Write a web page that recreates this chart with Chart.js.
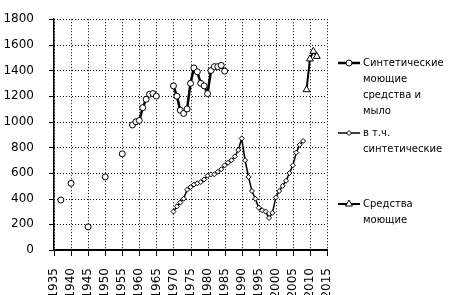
<!DOCTYPE html>
<html lang="ru">
<head>
<meta charset="UTF-8">
<title>Производство моющих средств</title>
<script src="https://cdn.jsdelivr.net/npm/chart.js"></script>
<style>
  * { margin: 0; padding: 0; }
  body { background: #fff; width: 453px; height: 295px; overflow: hidden; }
  .wrap { position: relative; width: 453px; height: 295px; }
</style>
</head>
<body>
<div class="wrap"><canvas id="chart"></canvas></div>
<script>
// Синтетические моющие средства и мыло (null = разрыв линии)
const soapYears = [1937, 1938, 1940, 1941, 1945, 1946, 1950, 1951, 1955, 1956,
  1958, 1959, 1960, 1961, 1962, 1963, 1964, 1965, 1966,
  1970, 1971, 1972, 1973, 1974, 1975, 1976, 1977, 1978, 1979, 1980, 1981, 1982, 1983, 1984, 1985];
const soapValues = [390, null, 520, null, 180, null, 570, null, 750, null,
  975, 1000, 1010, 1110, 1175, 1215, 1220, 1200, null,
  1280, 1200, 1090, 1065, 1100, 1300, 1420, 1390, 1300, 1280, 1220, 1400, 1430, 1430, 1440, 1395];

// в т.ч. синтетические
const synthYears = [1970, 1971, 1972, 1973, 1974, 1975, 1976, 1977, 1978, 1979,
  1980, 1981, 1982, 1983, 1984, 1985, 1986, 1987, 1988, 1989,
  1990, 1991, 1992, 1993, 1994, 1995, 1996, 1997, 1998, 1999,
  2000, 2001, 2002, 2003, 2004, 2005, 2006, 2007, 2008];
const synthValues = [300, 340, 370, 400, 470, 490, 510, 520, 530, 550,
  580, 590, 590, 610, 630, 660, 680, 700, 730, 780,
  870, 700, 570, 460, 400, 330, 310, 300, 250, 290,
  410, 460, 500, 540, 600, 660, 760, 820, 850];

// Средства моющие
const detYears = [2009, 2010, 2011, 2012];
const detValues = [1250, 1490, 1550, 1510];

const legendLines = [
  ['Синтетические', 'моющие', 'средства и', 'мыло'],
  ['в т.ч.', 'синтетические'],
  ['Средства', 'моющие']
];

const FONT = 'DejaVu Sans';

function points(xs, ys) {
  return xs.map((x, i) => ({ x: x, y: ys[i] }));
}

function marker(ctx, style, r, x, y) {
  ctx.beginPath();
  if (style === 'circle') {
    ctx.arc(x, y, r, 0, Math.PI * 2);
  } else if (style === 'rectRot') {
    ctx.moveTo(x, y - r); ctx.lineTo(x + r, y); ctx.lineTo(x, y + r); ctx.lineTo(x - r, y);
  } else {
    ctx.moveTo(x, y - r); ctx.lineTo(x + r * 0.87, y + r * 0.5); ctx.lineTo(x - r * 0.87, y + r * 0.5);
  }
  ctx.closePath();
  ctx.fill();
  ctx.stroke();
}

// dotted grid + tick marks, placed from the scales' own ticks
const dottedGrid = {
  id: 'dottedGrid',
  beforeDatasetsDraw(chart) {
    const { ctx, chartArea: a, scales: { x, y } } = chart;
    ctx.save();
    ctx.globalAlpha = 1;
    ctx.strokeStyle = '#000';
    ctx.lineWidth = 1;
    ctx.setLineDash([1, 2]);
    ctx.beginPath();
    x.ticks.forEach(t => {
      const px = Math.round(x.getPixelForValue(t.value)) + 0.5;
      ctx.moveTo(px, a.top); ctx.lineTo(px, a.bottom);
    });
    y.ticks.forEach(t => {
      const py = Math.round(y.getPixelForValue(t.value)) + 0.5;
      ctx.moveTo(a.left, py); ctx.lineTo(a.right, py);
    });
    ctx.stroke();
    ctx.setLineDash([]);
    ctx.beginPath();
    x.ticks.forEach(t => {
      const px = Math.round(x.getPixelForValue(t.value)) + 0.5;
      ctx.moveTo(px, a.bottom); ctx.lineTo(px, a.bottom + 6);
    });
    y.ticks.forEach(t => {
      const py = Math.round(y.getPixelForValue(t.value)) + 0.5;
      ctx.moveTo(a.left - 5, py); ctx.lineTo(a.left, py);
    });
    ctx.stroke();
    ctx.restore();
  }
};

// legend at the right, text wrapped as in the original
const sideLegend = {
  id: 'sideLegend',
  afterDraw(chart) {
    const ctx = chart.ctx;
    const tops = [63, 133, 204];
    const lineH = 16;
    ctx.save();
    chart.data.datasets.forEach((ds, i) => {
      const y = tops[i];
      ctx.setLineDash([]);
      ctx.strokeStyle = '#000';
      ctx.lineWidth = ds.borderWidth;
      ctx.beginPath();
      ctx.moveTo(338, y);
      ctx.lineTo(360, y);
      ctx.stroke();
      ctx.fillStyle = '#fff';
      ctx.lineWidth = 1;
      marker(ctx, ds.pointStyle, ds.pointRadius, 349, y);
      ctx.fillStyle = '#000';
      ctx.font = '10px "' + FONT + '"';
      ctx.textBaseline = 'middle';
      ctx.textAlign = 'left';
      legendLines[i].forEach((t, k) => ctx.fillText(t, 363, y + k * lineH));
    });
    ctx.restore();
  }
};

new Chart(document.getElementById('chart'), {
  type: 'line',
  data: {
    datasets: [
      {
        label: 'Синтетические моющие средства и мыло',
        data: points(soapYears, soapValues),
        borderColor: '#000',
        borderWidth: 2.5,
        pointStyle: 'circle',
        pointRadius: 3,
        pointBackgroundColor: '#fff',
        pointBorderColor: '#000',
        pointBorderWidth: 1,
        spanGaps: false
      },
      {
        label: 'в т.ч. синтетические',
        data: points(synthYears, synthValues),
        borderColor: '#000',
        borderWidth: 1.5,
        pointStyle: 'rectRot',
        pointRadius: 2.5,
        pointBackgroundColor: '#fff',
        pointBorderColor: '#000',
        pointBorderWidth: 1
      },
      {
        label: 'Средства моющие',
        data: points(detYears, detValues),
        borderColor: '#000',
        borderWidth: 2,
        pointStyle: 'triangle',
        pointRadius: 4,
        pointBackgroundColor: '#fff',
        pointBorderColor: '#000',
        pointBorderWidth: 1
      }
    ]
  },
  options: {
    responsive: true,
    maintainAspectRatio: false,
    animation: false,
    layout: { padding: { top: 12, right: 126, left: 0, bottom: 0 } },
    plugins: {
      legend: { display: false },
      tooltip: { enabled: false }
    },
    scales: {
      x: {
        type: 'linear',
        min: 1935,
        max: 2015,
        afterFit: s => { s.height = 45; },
        ticks: {
          stepSize: 5,
          autoSkip: false,
          minRotation: 90,
          maxRotation: 90,
          padding: 10,
          color: '#000',
          font: { family: FONT, size: 12 },
          callback: v => String(v)
        },
        grid: { display: false },
        border: { display: true, color: '#000', width: 2 }
      },
      y: {
        min: 0,
        max: 1800,
        afterFit: s => { s.width = 54; },
        ticks: {
          stepSize: 200,
          autoSkip: false,
          padding: 12,
          color: '#000',
          font: { family: FONT, size: 12 },
          callback: v => String(v)
        },
        grid: { display: false },
        border: { display: true, color: '#000', width: 1.5 }
      }
    }
  },
  plugins: [dottedGrid, sideLegend]
});
</script>
</body>
</html>
